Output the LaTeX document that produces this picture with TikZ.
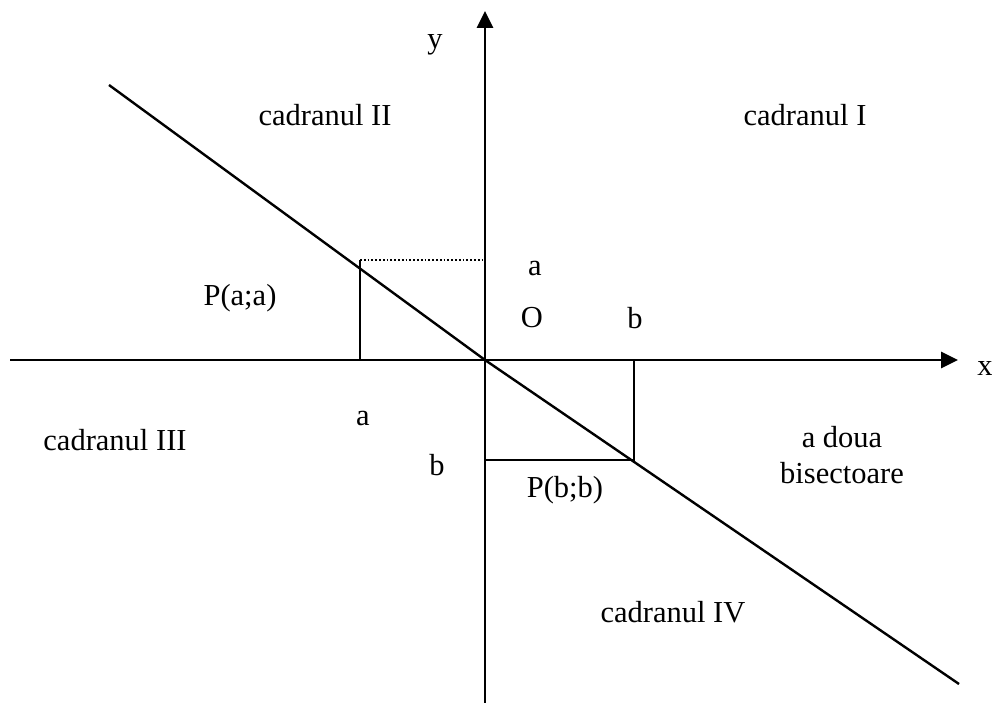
\documentclass[tikz,border=0pt]{standalone}
\usepackage{fontspec}
\usetikzlibrary{arrows.meta}
\setmainfont{Liberation Serif}
\begin{document}
\begin{tikzpicture}[x=1pt,y=-1pt,
  lbl/.style={inner sep=0pt,font=\fontsize{30.5}{36}\selectfont},
  axis/.style={line width=2.7pt,-{Triangle[length=17pt,width=16pt]}},
  thin line/.style={line width=2.4pt}]
\useasboundingbox (0,0) rectangle (992,703);
\coordinate (O) at (485,360);
\coordinate (xl) at (10,360);
\coordinate (xr) at (958,360);
\coordinate (yt) at (485,11);
\coordinate (yb) at (485,703);
\coordinate (d1) at (109,85);
\coordinate (d2) at (959,684);
\coordinate (Pa) at (360,260);
\coordinate (Pax) at (360,360);
\coordinate (Pay) at (485,260);
\coordinate (Pb) at (634,460);
\coordinate (Pbx) at (634,360);
\coordinate (Pby) at (485,460);
\draw[axis] (xl) -- (xr);
\draw[axis] (yb) -- (yt);
\draw[thin line,line join=round] (d1) -- (O) -- (d2);
\draw[thin line] (Pax) -- (Pa);
\draw[line width=1.8pt,dotted] (Pa) -- (Pay);
\draw[thin line] (Pbx) -- (Pb) -- (Pby);
\node[lbl] (ly) at (435,45) {y};
\node[lbl] (lx) at (985,368) {x};
\node[lbl] (c2) at (325,115) {cadranul II};
\node[lbl] (c1) at (805,115) {cadranul I};
\node[lbl] (pa) at (240,298) {P(a;a)};
\node[lbl] (la1) at (535,268) {a};
\node[lbl] (lo) at (532,318) {O};
\node[lbl] (lb1) at (635,318) {b};
\node[lbl] (la2) at (363,418) {a};
\node[lbl] (c3) at (115,440) {cadranul III};
\node[lbl] (lb2) at (437,465) {b};
\node[lbl,align=center] (bis) at (842,455) {a doua\\bisectoare};
\node[lbl] (pb) at (565,490) {P(b;b)};
\node[lbl] (c4) at (673,612) {cadranul IV};
\end{tikzpicture}
\end{document}
